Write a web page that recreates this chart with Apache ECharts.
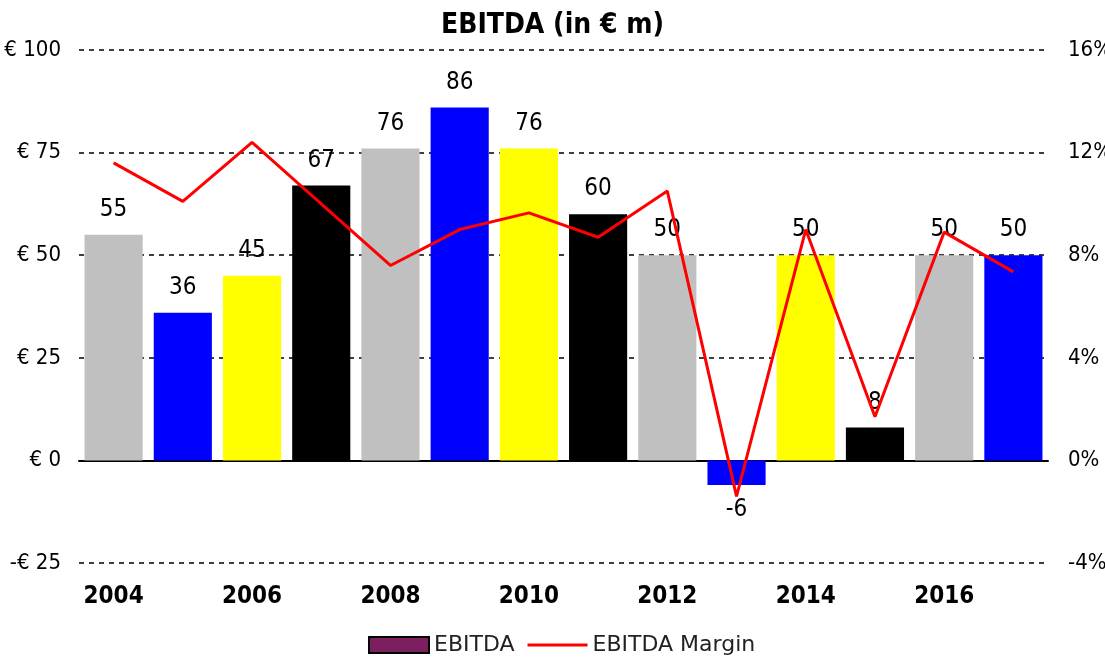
<!DOCTYPE html>
<html><head><meta charset="utf-8">
<script src="https://cdn.jsdelivr.net/npm/echarts@6/dist/echarts.min.js"></script>
<style>html,body{margin:0;padding:0;background:#fff;overflow:hidden}#c{width:1105px;height:658px}</style>
</head><body><div id="c"></div>
<script>
const years = ['2004','2005','2006','2007','2008','2009','2010','2011','2012','2013','2014','2015','2016','2017'];
const ebitda = [55, 36, 45, 67, 76, 86, 76, 60, 50, -6, 50, 8, 50, 50];
const margin = [11.6, 10.1, 12.4, 10.0, 7.6, 9.0, 9.65, 8.7, 10.5, -1.4, 9.0, 1.7, 8.9, 7.35];
const barColors = ['#C0C0C0', '#0000FF', '#FFFF00', '#000000'];
const leftTicks = [-25, 0, 25, 50, 75, 100];
const rightTicks = [-4, 0, 4, 8, 12, 16];

const FONT = "'DejaVu Sans Condensed', 'Liberation Sans Narrow', sans-serif";
const chart = echarts.init(document.getElementById('c'));
chart.setOption({
  animation: false,
  backgroundColor: '#fff',
  textStyle: {fontFamily: FONT},
  title: {text: 'EBITDA (in € m)', left: 'center', top: 7,
    textStyle: {fontFamily: FONT, fontWeight: 'bold', fontSize: 28, color: '#000'}},
  legend: {top: 634, left: 368, itemWidth: 60, itemHeight: 16, itemGap: 13, padding: 0,
    textStyle: {fontFamily: "'DejaVu Sans', sans-serif", fontSize: 22, color: '#222'},
    data: [
      {name: 'EBITDA', icon: 'rect', itemStyle: {color: '#7B1F5E', borderColor: '#000', borderWidth: 2}},
      {name: 'EBITDA Margin', icon: 'path://M0,0 L20,0 L20,1 L0,1 Z', itemStyle: {color: '#FF0000'}}
    ]},
  grid: {left: 79, right: 57, top: 50, bottom: 95, containLabel: false, outerBoundsMode: 'none'},
  xAxis: [
    {type: 'category', data: years, position: 'bottom',
      axisLine: {show: false, onZero: false}, axisTick: {show: false},
      axisLabel: {interval: 1, margin: 22, fontFamily: FONT, fontSize: 24, fontWeight: 'bold', color: '#000'}},
    {type: 'category', data: years, position: 'bottom',
      axisLine: {show: true, onZero: true, onZeroAxisIndex: 0, lineStyle: {color: '#000', width: 2}},
      axisTick: {show: false}, axisLabel: {show: false}}
  ],
  yAxis: [
    {type: 'value', min: leftTicks[0], max: leftTicks[leftTicks.length-1], interval: 25,
      axisLine: {show: false}, axisTick: {show: false},
      axisLabel: {margin: 18, fontFamily: FONT, fontSize: 22, color: '#000',
        formatter: v => (v < 0 ? '-€ ' + Math.abs(v) : '€ ' + v)},
      splitLine: {show: true, lineStyle: {color: '#000', type: [5, 5], width: 1.5}}},
    {type: 'value', min: rightTicks[0], max: rightTicks[rightTicks.length-1], interval: 4,
      axisLine: {show: false}, axisTick: {show: false}, splitLine: {show: false},
      axisLabel: {margin: 20, fontFamily: FONT, fontSize: 22, color: '#000', formatter: v => v + '%'}}
  ],
  series: [
    {name: 'EBITDA', type: 'bar', xAxisIndex: 0, yAxisIndex: 0, barCategoryGap: '16%',
      itemStyle: {color: '#7B1F5E'},
      data: ebitda.map((v, i) => ({value: v,
        itemStyle: {color: barColors[i % barColors.length]},
        label: {position: v < 0 ? 'bottom' : 'top'}})),
      label: {show: true, distance: 13, fontFamily: FONT, fontSize: 24, color: '#000'}},
    {name: 'EBITDA Margin', type: 'line', xAxisIndex: 0, yAxisIndex: 1, data: margin,
      showSymbol: false, symbol: 'none', itemStyle: {color: '#FF0000'},
      lineStyle: {color: '#FF0000', width: 3}, z: 5}
  ]
});
</script></body></html>
